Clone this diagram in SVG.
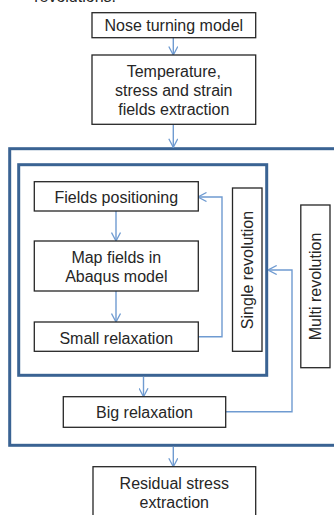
<svg xmlns="http://www.w3.org/2000/svg" width="334" height="515" viewBox="0 0 334 515">
<style>
.box{fill:#fff;stroke:#262626;stroke-width:1.3}
.frame{fill:none;stroke:#3a6393;stroke-width:3}
.t{font-family:"Liberation Sans",Arial,sans-serif;font-size:16px;fill:#262626;text-anchor:middle}
.c{fill:none;stroke:#6f9bd1;stroke-width:1.4}
</style>
<defs>
<marker id="ah" viewBox="0 0 10 10" refX="9.5" refY="5" markerWidth="10" markerHeight="10" markerUnits="userSpaceOnUse" orient="auto">
<path d="M1,0.5 L9.5,5 L1,9.5" fill="none" stroke="#6f9bd1" stroke-width="1.3"/>
</marker>
</defs>
<rect width="334" height="515" fill="#fff"/>
<text class="t" x="116" y="2" style="text-anchor:end">revolutions.</text>
<g id="frames">
<rect id="outer" class="frame" x="9.7" y="148.7" width="340" height="296.6"/>
<rect id="inner" class="frame" x="18.7" y="164.7" width="248" height="210.6"/>
</g>
<g id="connectors">
<path class="c" d="M173.3,37.7 V55" marker-end="url(#ah)"/>
<path class="c" d="M173.3,124.3 V147.3" marker-end="url(#ah)"/>
<path class="c" d="M116,211 V241" marker-end="url(#ah)"/>
<path class="c" d="M116,291 V322" marker-end="url(#ah)"/>
<path class="c" d="M198,336.7 H222 V197 H198" marker-end="url(#ah)"/>
<path class="c" d="M143.5,376.8 V396.7" marker-end="url(#ah)"/>
<path class="c" d="M225.7,411.8 H292 V270 H268.2" marker-end="url(#ah)"/>
<path class="c" d="M173.3,446.8 V466.7" marker-end="url(#ah)"/>
</g>
<g id="nose">
<rect class="box" x="92" y="12.7" width="163.7" height="25"/>
<text class="t" x="173.8" y="30.5">Nose turning model</text>
</g>
<g id="temperature">
<rect class="box" x="92" y="55" width="163.7" height="69.3"/>
<text class="t" x="173.8" y="77.3">Temperature,</text>
<text class="t" x="173.8" y="96.3">stress and strain</text>
<text class="t" x="173.8" y="115.3">fields extraction</text>
</g>
<g id="fields">
<rect class="box" x="34.3" y="181.7" width="164" height="29.3"/>
<text class="t" x="116.3" y="203.3">Fields positioning</text>
</g>
<g id="map">
<rect class="box" x="34.3" y="241" width="164" height="50"/>
<text class="t" x="116.3" y="262.7">Map fields in</text>
<text class="t" x="116.3" y="281.7">Abaqus model</text>
</g>
<g id="small">
<rect class="box" x="34.3" y="322" width="164" height="29.3"/>
<text class="t" x="116.3" y="344">Small relaxation</text>
</g>
<g id="single">
<rect class="box" x="232.5" y="188" width="29.5" height="163.3"/>
<text class="t" transform="translate(253.3,270) rotate(-90)">Single revolution</text>
</g>
<g id="multi">
<rect class="box" x="300.8" y="205" width="29.2" height="162.7"/>
<text class="t" transform="translate(321,286.5) rotate(-90)">Multi revolution</text>
</g>
<g id="big">
<rect class="box" x="63.3" y="396.7" width="162.4" height="30.6"/>
<text class="t" x="144.5" y="418.3">Big relaxation</text>
</g>
<g id="residual">
<rect class="box" x="93" y="466.7" width="162.7" height="60"/>
<text class="t" x="174.3" y="489.3">Residual stress</text>
<text class="t" x="174.3" y="508.3">extraction</text>
</g>
</svg>
